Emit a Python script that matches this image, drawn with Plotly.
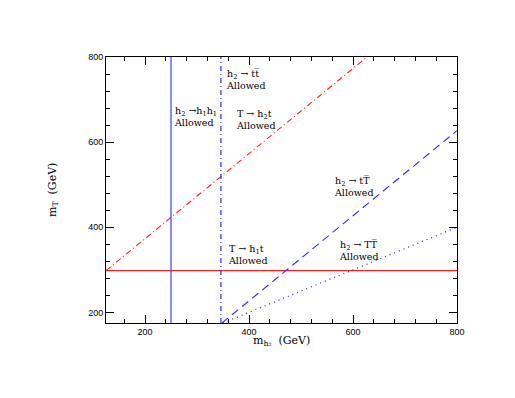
import plotly.graph_objs as go

# axis ranges (GeV)
x_range = [125, 800]
y_range = [175, 800]

# T -> h1 t threshold (horizontal)
h1t_x = [125, 800]
h1t_y = [298, 298]

# T -> h2 t threshold
h2t_x = [125, 627]
h2t_y = [298, 800]

# h2 -> h1 h1 threshold (vertical)
h1h1_x = [250, 250]
h1h1_y = [175, 800]

# h2 -> t tbar threshold (vertical)
ttbar_x = [346, 346]
ttbar_y = [175, 800]

# h2 -> t Tbar threshold
tTbar_x = [348, 800]
tTbar_y = [175, 627]

# h2 -> T Tbar threshold
TTbar_x = [350, 800]
TTbar_y = [175, 400]

# region labels
label_text = [
    "h<sub>2</sub> → tt\u0305<br>Allowed",
    "h<sub>2</sub> →h<sub>1</sub>h<sub>1</sub><br>Allowed",
    "T → h<sub>2</sub>t<br>Allowed",
    "h<sub>2</sub> → tT\u0305<br>Allowed",
    "h<sub>2</sub> → TT\u0305<br>Allowed",
    "T → h<sub>1</sub>t<br>Allowed",
]
label_x = [351, 251, 372, 560, 570, 355]
label_y = [746, 661, 652, 495, 346, 335]

RED = "#ff2020"
BLUE = "#2a2aff"
FONT = "DejaVu Serif"
TICK_FONT = "Liberation Sans"


def line(x, y, color, dash, width=1.1):
    return go.Scatter(
        x=x, y=y, mode="lines", showlegend=False,
        line=dict(color=color, width=width, dash=dash),
    )


traces = [
    line(h1t_x, h1t_y, RED, "solid"),
    line(h2t_x, h2t_y, RED, "6px,3px,1px,3px"),
    line(h1h1_x, h1h1_y, BLUE, "solid"),
    line(ttbar_x, ttbar_y, BLUE, "5px,3px,1px,3px", 1.2),
    line(tTbar_x, tTbar_y, BLUE, "8px,5px"),
    line(TTbar_x, TTbar_y, BLUE, "1px,4px", 1.3),
]

annotations = [
    dict(x=x, y=y, text=t, xref="x", yref="y", xanchor="left",
         yanchor="middle", align="left", showarrow=False,
         font=dict(family=FONT, size=9.5, color="black"))
    for t, x, y in zip(label_text, label_x, label_y)
]
annotations += [
    dict(x=0.5, y=-0.068, xref="paper", yref="paper", xanchor="center",
         yanchor="middle", showarrow=False, text="m<sub>h₂</sub>  (GeV)",
         font=dict(family=FONT, size=11, color="black")),
    dict(x=-0.151, y=0.5, xref="paper", yref="paper", xanchor="center",
         yanchor="middle", showarrow=False, textangle=-90,
         text="m<sub>T</sub>  (GeV)",
         font=dict(family=FONT, size=11, color="black")),
]

axis_style = dict(
    showgrid=False, zeroline=False, showline=True, linecolor="black",
    linewidth=1, mirror="ticks", ticks="inside", ticklen=8, tickwidth=1,
    tickcolor="black", dtick=200,
    tickfont=dict(family=TICK_FONT, size=9, color="black"),
    minor=dict(ticks="inside", ticklen=4, tickwidth=1, tickcolor="black",
               dtick=40, showgrid=False),
)

# page body adds an 8px offset, so the figure is drawn 8px smaller
layout = go.Layout(
    width=507, height=390,
    margin=dict(l=98, r=58, t=49, b=75),
    paper_bgcolor="white", plot_bgcolor="white",
    xaxis=dict(range=x_range, tick0=0, **axis_style),
    yaxis=dict(range=y_range, tick0=0, **axis_style),
    annotations=annotations,
    showlegend=False,
)

fig = go.Figure(data=traces, layout=layout)
fig.write_html("out.html")
